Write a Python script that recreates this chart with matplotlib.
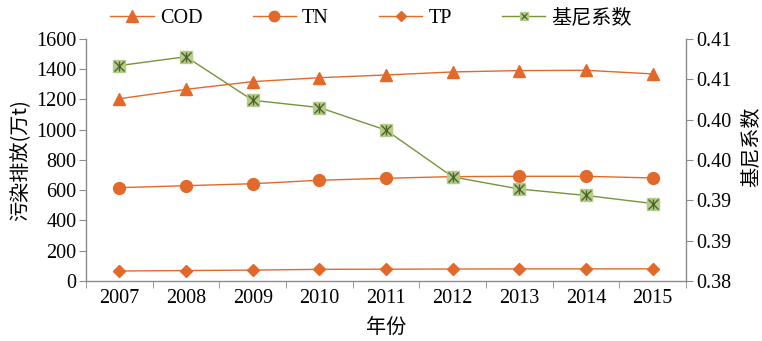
import matplotlib
matplotlib.use("Agg")
import matplotlib.pyplot as plt
from matplotlib.lines import Line2D
from matplotlib.ticker import FixedLocator, FuncFormatter
import numpy as np

plt.rcParams['font.family'] = ['Liberation Serif', 'Noto Sans CJK SC', 'DejaVu Sans']

years = ['2007', '2008', '2009', '2010', '2011', '2012', '2013', '2014', '2015']
cod = [1205, 1267, 1318, 1344, 1362, 1382, 1391, 1393, 1369]
tn = [617, 630, 643, 666, 679, 690, 692, 692, 681]
tp = [66, 69, 72, 77, 78, 79, 80, 80, 80]
gini = [0.4067, 0.4078, 0.4024, 0.4015, 0.3987, 0.3929, 0.3914, 0.3906, 0.3896]

orange = '#E2692A'
green_line = '#77933C'
green_face = '#B3CC8A'
green_dark = '#4F6228'
spine_c = '#8C8C8C'
fs = 14.5

fig = plt.figure(figsize=(7.62, 3.41), dpi=100)
ax = fig.add_axes([0.1129, 0.176, 0.7874, 0.7097])
ax2 = ax.twinx()

x = np.arange(len(years))
lw = 1.0
ax.plot(x, cod, color=orange, lw=lw, marker='^', ms=9, mfc=orange, mec=orange, zorder=3)
ax.plot(x, tn, color=orange, lw=lw, marker='o', ms=8.5, mfc=orange, mec=orange, zorder=3)
ax.plot(x, tp, color=orange, lw=lw, marker='D', ms=6.5, mfc=orange, mec=orange, zorder=3)

ax2.plot(x, gini, color=green_line, lw=lw, marker='s', ms=8, mfc=green_face, mec=green_face, zorder=3)
ax2.plot(x, gini, ls='none', marker='x', ms=7.5, mec=green_dark, mew=1.0, zorder=4)
ax2.plot(x, gini, ls='none', marker='|', ms=7.5, mec=green_dark, mew=1.0, zorder=4)

ax.set_xlim(-0.5, len(years) - 0.5)
ax.set_ylim(0, 1600)
ax.set_yticks(np.arange(0, 1601, 200))
ax2.set_ylim(0.38, 0.41)
ax2.yaxis.set_major_locator(FixedLocator(np.linspace(0.38, 0.41, 7)))
ax2.yaxis.set_major_formatter(FuncFormatter(lambda v, p: f"{np.floor(v * 100 + 0.5 + 1e-9) / 100:.2f}"))

ax.set_xticks(x)
ax.set_xticklabels(years)
ax.xaxis.set_minor_locator(FixedLocator(np.arange(-0.5, len(years), 1.0)))
ax.tick_params(axis='x', which='major', length=0, pad=6, labelsize=fs)
ax.tick_params(axis='x', which='minor', length=5, color=spine_c, direction='out')
ax.tick_params(axis='y', length=5, color=spine_c, direction='out', labelsize=fs, pad=2)
ax2.tick_params(axis='y', length=5, color=spine_c, direction='out', labelsize=fs, pad=2)

for a in (ax, ax2):
    a.spines['top'].set_visible(False)
    for s in ('left', 'right', 'bottom'):
        a.spines[s].set_color(spine_c)
        a.spines[s].set_linewidth(1.0)
ax.spines['right'].set_visible(False)
ax2.spines['left'].set_visible(False)
ax2.spines['bottom'].set_visible(False)

ax.set_ylabel('污染排放(万t)', fontsize=fs, family=['Noto Sans CJK SC', 'Liberation Serif'])
ax.yaxis.set_label_coords(-0.092, 0.5)
ax2.set_ylabel('基尼系数', fontsize=fs, family=['Noto Sans CJK SC'], rotation=90)
ax2.yaxis.set_label_coords(1.09, 0.555)
ax.set_xlabel('年份', fontsize=fs, family=['Noto Sans CJK SC'], labelpad=6)

handles = [
    Line2D([], [], color=orange, lw=lw, marker='^', ms=8, mfc=orange, mec=orange),
    Line2D([], [], color=orange, lw=lw, marker='o', ms=7.5, mfc=orange, mec=orange),
    Line2D([], [], color=orange, lw=lw, marker='D', ms=5, mfc=orange, mec=orange),
    (Line2D([], [], color=green_line, lw=lw, marker='s', ms=5.5, mfc=green_face, mec=green_face),
     Line2D([], [], ls='none', marker='x', ms=4.5, mec=green_dark, mew=0.9)),
]
labels = ['COD', 'TN', 'TP', '基尼系数']
leg = fig.legend(handles, labels, ncol=4, loc='center', bbox_to_anchor=(0.487, 0.945),
                 frameon=False, handlelength=2.15, columnspacing=2.5,
                 handletextpad=0.3, prop={'family': ['Liberation Serif', 'Noto Sans CJK SC'], 'size': fs})

fig.savefig('out.png', dpi=100)
